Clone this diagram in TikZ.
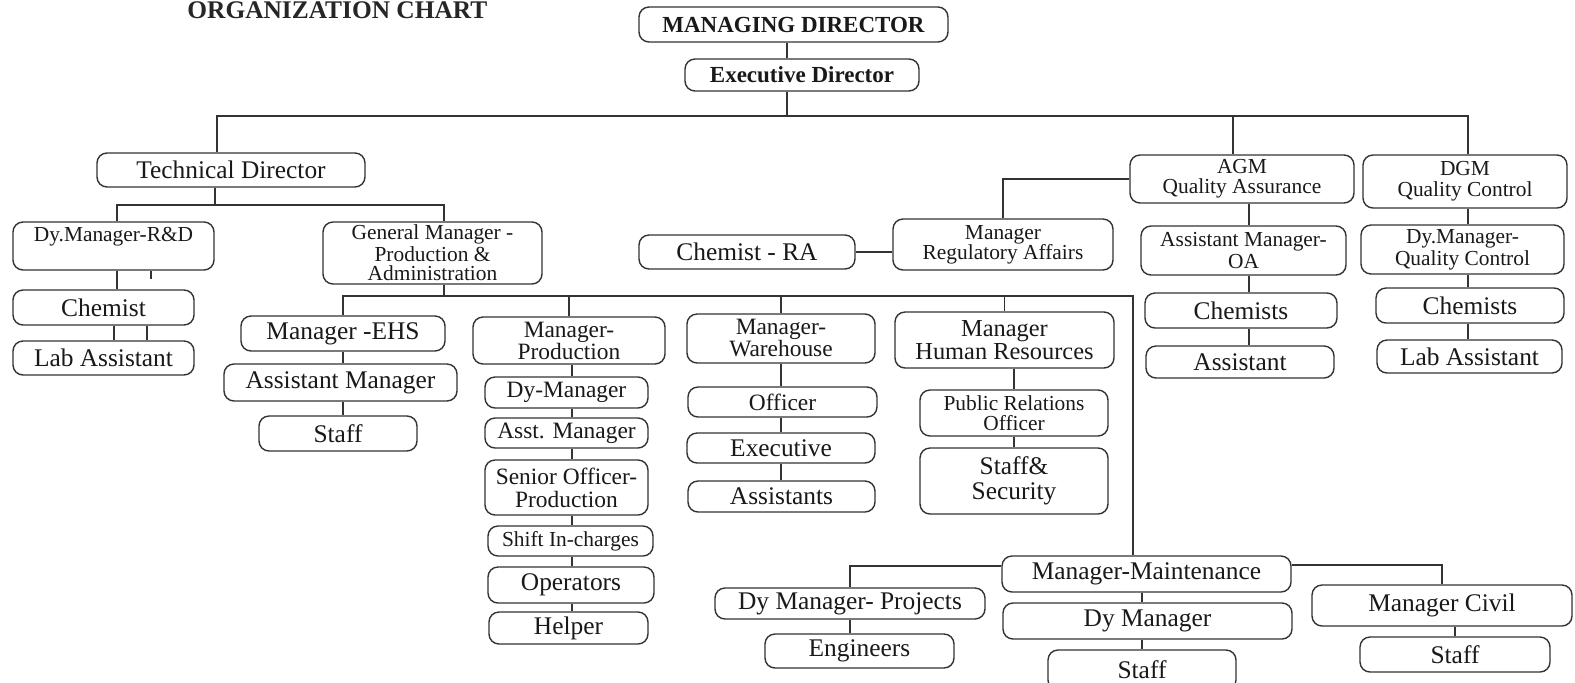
\documentclass[tikz,border=0pt]{standalone}
\usepackage{fontspec}
\setmainfont{Liberation Serif}
\begin{document}
\begin{tikzpicture}[x=0.5pt, y=-0.5pt,
  orgbox/.style={draw=black!80, line width=0.7pt, rounded corners=5pt, inner sep=0pt, align=center, text=black!90},
  boldtxt/.style={font=\fontsize{11.5}{13}\selectfont\bfseries},
  bigtxt/.style={font=\fontsize{12.7}{12}\selectfont},
  midtxt/.style={font=\fontsize{11.7}{11}\selectfont},
  smalltxt/.style={font=\fontsize{10.7}{10.2}\selectfont}]
% Page size of the scan
\fill[white] (0,0) rectangle (1575,682);
\useasboundingbox (0,0) rectangle (1575,682);

% Title at the top edge
\node[font=\fontsize{12.7}{14}\selectfont\bfseries, anchor=north west, inner sep=0pt, text=black!85] (title) at (187,1) {ORGANIZATION CHART};

% Directors
\node[orgbox, boldtxt, minimum width=154.5pt, minimum height=17.5pt] (md) at (793.5,24.5) {MANAGING DIRECTOR};
\node[orgbox, boldtxt, minimum width=117pt, minimum height=16pt] (ed) at (802,75) {Executive Director};
\node[orgbox, bigtxt, minimum width=134pt, minimum height=17pt] (td) at (231,170) {Technical Director};

% R&D and general manager
\node[orgbox, smalltxt, minimum width=100.5pt, minimum height=24pt] (rnd) at (113.5,246) {Dy.Manager-R\&D\\[1pt]~};
\node[orgbox, bigtxt, minimum width=90.5pt, minimum height=17.5pt] (chem) at (103.5,307.5) {Chemist};
\node[orgbox, bigtxt, minimum width=90.5pt, minimum height=17pt] (lab) at (103.5,358) {Lab Assistant};
\node[orgbox, font=\fontsize{10.7}{9.6}\selectfont, minimum width=109.5pt, minimum height=31pt] (gm) at (432.5,253) {General Manager -\\Production \&\\Administration};

% EHS
\node[orgbox, bigtxt, minimum width=102pt, minimum height=17.5pt] (ehs) at (343,333.5) {Manager -EHS};
\node[orgbox, bigtxt, minimum width=116.5pt, minimum height=18.5pt] (ehsam) at (340.5,382.5) {Assistant Manager};
\node[orgbox, bigtxt, minimum width=79pt, minimum height=17.5pt] (ehsst) at (338,433.5) {Staff};

% Production
\node[orgbox, midtxt, minimum width=96pt, minimum height=23.5pt] (prod) at (569,340.5) {Manager-\\Production};
\node[orgbox, midtxt, minimum width=81.5pt, minimum height=15.5pt] (pdm) at (566.5,392.5) {Dy-Manager};
\node[orgbox, midtxt, minimum width=81.5pt, minimum height=15pt] (pam) at (566.5,433) {Asst. Manager};
\node[orgbox, font=\fontsize{11.7}{11.5}\selectfont, minimum width=81.5pt, minimum height=27.5pt] (pso) at (566.5,487.5) {Senior Officer-\\Production};
\node[orgbox, smalltxt, minimum width=82.5pt, minimum height=15pt] (psh) at (570.5,541) {Shift In-charges};
\node[orgbox, bigtxt, minimum width=83pt, minimum height=18pt] (pop) at (571,585) {Operators};
\node[orgbox, bigtxt, minimum width=79.5pt, minimum height=16pt] (phe) at (568.5,628) {Helper};

% Warehouse
\node[orgbox, midtxt, minimum width=94pt, minimum height=24.5pt] (wh) at (781,338.5) {Manager-\\Warehouse};
\node[orgbox, midtxt, minimum width=94.5pt, minimum height=15pt] (woff) at (782.5,402) {Officer};
\node[orgbox, bigtxt, minimum width=94pt, minimum height=15pt] (wex) at (781,448) {Executive};
\node[orgbox, bigtxt, minimum width=93.5pt, minimum height=15.5pt] (was) at (781.5,496.5) {Assistants};

% Human resources
\node[orgbox, font=\fontsize{12.2}{11.5}\selectfont, minimum width=109.5pt, minimum height=28pt] (hr) at (1004.5,340) {Manager\\Human Resources};
\node[orgbox, smalltxt, minimum width=94pt, minimum height=23pt] (pro) at (1014,413) {Public Relations\\Officer};
\node[orgbox, font=\fontsize{12.7}{12.5}\selectfont, minimum width=94pt, minimum height=33pt] (sec) at (1014,481) {Staff\&\\Security};

% Regulatory affairs
\node[orgbox, bigtxt, minimum width=108pt, minimum height=17pt] (chra) at (747,252) {Chemist - RA};
\node[orgbox, smalltxt, minimum width=110pt, minimum height=25.5pt] (ra) at (1003,244.5) {Manager\\Regulatory Affairs};

% Quality assurance
\node[orgbox, smalltxt, minimum width=112pt, minimum height=24pt] (agm) at (1242,179) {AGM\\Quality Assurance};
\node[orgbox, font=\fontsize{10.7}{11}\selectfont, minimum width=102.5pt, minimum height=24.5pt] (aqa) at (1243.5,250.5) {Assistant Manager-\\OA};
\node[orgbox, bigtxt, minimum width=96pt, minimum height=17.5pt] (qach) at (1241,310.5) {Chemists};
\node[orgbox, bigtxt, minimum width=94pt, minimum height=16pt] (qaas) at (1240,362) {Assistant};

% Quality control
\node[orgbox, font=\fontsize{10.7}{10.5}\selectfont, minimum width=102pt, minimum height=26.5pt] (dgm) at (1465,181.5) {DGM\\Quality Control};
\node[orgbox, font=\fontsize{10.7}{11}\selectfont, minimum width=101.5pt, minimum height=24.5pt] (dqc) at (1462.5,249.5) {Dy.Manager-\\Quality Control};
\node[orgbox, bigtxt, minimum width=94pt, minimum height=17.5pt] (qcch) at (1470,305.5) {Chemists};
\node[orgbox, bigtxt, minimum width=92.5pt, minimum height=16.5pt] (qcla) at (1469.5,356.5) {Lab Assistant};

% Maintenance
\node[orgbox, bigtxt, minimum width=144.5pt, minimum height=18pt] (mm) at (1146.5,574) {Manager-Maintenance};
\node[orgbox, bigtxt, minimum width=144.5pt, minimum height=18pt] (mdy) at (1147.5,621) {Dy Manager};
\node[orgbox, bigtxt, minimum width=94pt, minimum height=20pt] (mst) at (1142,670) {Staff};
\node[orgbox, bigtxt, minimum width=135pt, minimum height=15.5pt] (dpj) at (850,603.5) {Dy Manager- Projects};
\node[orgbox, bigtxt, minimum width=94.5pt, minimum height=17pt] (eng) at (859.5,651) {Engineers};
\node[orgbox, bigtxt, minimum width=130pt, minimum height=20.5pt] (civ) at (1442,605.5) {Manager Civil};
\node[orgbox, bigtxt, minimum width=95pt, minimum height=17.5pt] (cst) at (1455,654.5) {Staff};

\begin{scope}[draw=black!80, line width=0.7pt]
% Top links
\coordinate (bus) at (787,116);
\coordinate (busL) at (217,116);
\coordinate (busQA) at (1233,116);
\coordinate (busR) at (1468,116);
\draw (md.south -| bus) -- (ed.north -| bus);
\draw (ed.south -| bus) -- (bus);
\draw (busL |- td.north) -- (busL) -- (busR) -- (busR |- dgm.north);
\draw (busQA) -- (busQA |- agm.north);

% Technical director links
\coordinate (tdj) at (215,205);
\coordinate (tdl) at (117,205);
\coordinate (tdr) at (444,205);
\draw (td.south -| tdj) -- (tdj);
\draw (rnd.north -| tdl) -- (tdl) -- (tdr) -- (gm.north -| tdr);
\draw (rnd.south -| tdl) -- (chem.north -| tdl);
\draw ([xshift=18.75pt]rnd.south) -- ++(0,8);
\draw ([xshift=5.25pt]chem.south) -- ([xshift=5.25pt]lab.north);
\draw ([xshift=21.75pt]chem.south) -- ([xshift=21.75pt]lab.north);

% General manager links
\coordinate (gmj) at (444,296);
\coordinate (gmL) at (343,296);
\coordinate (gmR) at (1133,296);
\draw (gm.south -| gmj) -- (gmj);
\draw (ehs.north -| gmL) -- (gmL) -- (gmR) -- (mm.north -| gmR);
\draw (prod.north |- gmL) -- (prod.north);
\draw (wh.north |- gmL) -- (wh.north);
\draw (hr.north |- gmL) -- (hr.north);

% EHS links
\draw (ehs.south) -- (ehs.south |- ehsam.north);
\draw (ehsam.south -| ehs.south) -- (ehsst.north -| ehs.south);

% Production links
\coordinate (pc) at (572,0);
\draw (prod.south -| pc) -- (pdm.north -| pc);
\draw (pdm.south -| pc) -- (pam.north -| pc);
\draw (pam.south -| pc) -- (pso.north -| pc);
\draw (pso.south -| pc) -- (psh.north -| pc);
\draw (psh.south -| pc) -- (pop.north -| pc);
\draw (pop.south -| pc) -- (phe.north -| pc);

% Warehouse links
\draw (wh.south) -- (wh.south |- woff.north);
\draw (woff.south -| wh.south) -- (wex.north -| wh.south);
\draw (wex.south) -- (wex.south |- was.north);

% HR links
\draw (hr.south -| pro.north) -- (pro.north);
\draw (pro.south) -- (sec.north);

% RA links
\draw (chra.east) -- (chra.east -| ra.west);
\draw (agm.west) -| (ra.north);

% QA links
\coordinate (qa) at (1249,0);
\draw (agm.south -| qa) -- (aqa.north -| qa);
\draw (aqa.south -| qa) -- (qach.north -| qa);
\draw (qach.south -| qa) -- (qaas.north -| qa);

% QC links
\draw (dgm.south -| busR) -- (dqc.north -| busR);
\draw (dqc.south -| busR) -- (qcch.north -| busR);
\draw (qcch.south -| busR) -- (qcla.north -| busR);

% Maintenance links
\draw (mm.south -| mst.north) -- (mdy.north -| mst.north);
\draw (mdy.south -| mst.north) -- (mst.north);
\draw ([yshift=4pt]mm.west) -| (dpj.north);
\draw (dpj.south) -- (dpj.south |- eng.north);
\draw ([yshift=4.5pt]mm.east) -| (civ.north);
\draw (cst.north |- civ.south) -- (cst.north);
\end{scope}
\end{tikzpicture}
\end{document}
